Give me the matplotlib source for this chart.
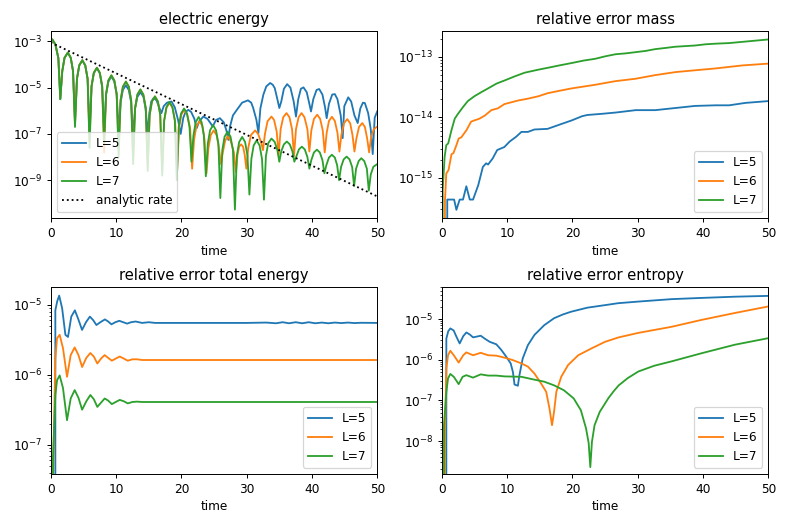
import numpy as np
import matplotlib
matplotlib.use("Agg")
import matplotlib.pyplot as plt
from matplotlib.ticker import FixedLocator, NullLocator, LogFormatterSciNotation

Z = -np.inf  # log10 of an exact zero value

time_ticks = [0, 10, 20, 30, 40, 50]
labels = ["L=5", "L=6", "L=7"]
ee_ytick_exps = [-9, -7, -5, -3]

# ---------------- electric energy (log10 values) ----------------
ee7_t = [0, 0.25, 0.72, 1.17, 1.47,
         1.77, 2.12, 2.62, 3.07, 3.42, 3.72,
         4.02, 4.37, 4.84, 5.29, 5.65, 5.95,
         6.25, 6.6, 7.07, 7.52, 7.88, 8.18,
         8.48, 8.83, 9.29, 9.74, 10.1, 10.4,
         10.7, 11.05, 11.51, 11.96, 12.32, 12.62,
         12.92, 13.27, 13.73, 14.18, 14.55, 14.85,
         15.15, 15.5, 15.96, 16.41, 16.77, 17.07,
         17.37, 17.72, 18.18, 18.63, 19.0, 19.3,
         19.6, 19.95, 20.42, 20.87, 21.25, 21.55,
         21.85, 22.2, 22.65, 23.1, 23.45, 23.75,
         24.05, 24.4, 24.86, 25.31, 25.67, 25.97,
         26.27, 26.62, 27.08, 27.53, 27.9, 28.2,
         28.5, 28.85, 29.31, 29.76, 30.12, 30.42,
         30.72, 31.07, 31.53, 31.98, 32.35, 32.65,
         32.95, 33.3, 33.8, 34.3, 34.7, 35.0,
         35.3, 35.7, 36.15, 36.6, 37.0, 37.3,
         37.6, 38.0, 38.45, 38.9, 39.3, 39.6,
         39.9, 40.3, 40.75, 41.2, 41.6, 41.9,
         42.2, 42.6, 43.05, 43.5, 43.85, 44.15,
         44.45, 44.85, 45.3, 45.75, 46.15, 46.45,
         46.75, 47.15, 47.55, 48.0, 48.4, 48.7,
         49.0, 49.4, 50.0]
ee7_log = [-2.96, -2.92, -3.14, -3.72, -5.5,
           -4.29, -3.71, -3.49, -3.71, -4.29, -6.7,
           -4.62, -4.04, -3.82, -4.04, -4.62, -7.6,
           -4.94, -4.36, -4.14, -4.36, -4.94, -7.4,
           -5.27, -4.69, -4.47, -4.69, -5.27, -8.0,
           -5.54, -4.96, -4.74, -4.96, -5.54, -8.3,
           -5.88, -5.30, -5.08, -5.30, -5.88, -8.6,
           -6.18, -5.60, -5.38, -5.60, -6.18, -8.8,
           -6.42, -5.84, -5.62, -5.84, -6.42, -9.0,
           -6.70, -6.12, -5.90, -6.12, -6.70, -8.2,
           -7.07, -6.49, -6.27, -6.49, -7.07, -8.83,
           -7.42, -6.84, -6.62, -6.84, -7.42, -9.77,
           -7.70, -7.12, -6.90, -7.12, -7.70, -10.27,
           -7.93, -7.35, -7.13, -7.35, -7.93, -9.62,
           -8.08, -7.50, -7.28, -7.50, -8.08, -9.84,
           -7.95, -7.40, -7.20, -7.35, -7.70, -8.2,
           -7.75, -7.45, -7.33, -7.45, -7.75, -8.2,
           -7.98, -7.67, -7.55, -7.67, -8.00, -8.5,
           -8.13, -7.80, -7.68, -7.80, -8.13, -8.7,
           -8.35, -8.02, -7.90, -8.02, -8.35, -9.0,
           -8.43, -8.10, -7.98, -8.10, -8.43, -9.25,
           -8.50, -8.17, -8.05, -8.17, -8.50, -9.45,
           -8.75, -8.42, -8.30]

ee6_t = [0, 0.25, 0.72, 1.17, 1.47,
         1.77, 2.12, 2.62, 3.07, 3.42, 3.72,
         4.02, 4.37, 4.84, 5.29, 5.65, 5.95,
         6.25, 6.6, 7.07, 7.52, 7.88, 8.18,
         8.48, 8.83, 9.29, 9.74, 10.1, 10.4,
         10.7, 11.05, 11.51, 11.96, 12.32, 12.62,
         12.92, 13.27, 13.73, 14.18, 14.55, 14.85,
         15.15, 15.5, 15.96, 16.41, 16.77, 17.07,
         17.37, 17.72, 18.2, 18.65, 19.05, 19.35,
         19.65, 20.0, 20.45, 20.9, 21.35, 21.65,
         21.95, 22.3, 22.8, 23.25, 23.55, 23.85,
         24.15, 24.5, 24.95, 25.4, 25.75, 26.05,
         26.35, 26.7, 27.1, 27.55, 28.05, 28.35,
         28.6, 28.85, 29.15, 29.45, 29.7, 29.95,
         30.25, 30.65, 31.3, 31.75, 32.2, 32.5,
         32.8, 33.2, 33.8, 34.2, 34.6, 34.9,
         35.2, 35.6, 36.1, 36.55, 36.95, 37.25,
         37.55, 37.95, 38.4, 38.85, 39.3, 39.6,
         39.9, 40.3, 40.8, 41.25, 41.65, 41.95,
         42.25, 42.6, 43.05, 43.5, 43.9, 44.2,
         44.5, 44.9, 45.4, 45.85, 46.2, 46.5,
         46.8, 47.2, 47.7, 48.1, 48.45, 48.75,
         49.05, 49.45, 50.0]
ee6_log = [-2.96, -2.92, -3.14, -3.72, -5.45,
           -4.29, -3.71, -3.49, -3.71, -4.29, -6.6,
           -4.62, -4.04, -3.82, -4.04, -4.62, -7.3,
           -4.94, -4.36, -4.14, -4.36, -4.94, -7.8,
           -5.27, -4.69, -4.47, -4.69, -5.27, -7.7,
           -5.54, -4.96, -4.74, -4.96, -5.54, -8.1,
           -5.88, -5.30, -5.08, -5.30, -5.88, -8.4,
           -6.18, -5.60, -5.38, -5.60, -6.18, -8.6,
           -6.45, -5.87, -5.65, -5.87, -6.45, -8.6,
           -6.75, -6.17, -5.95, -6.17, -6.75, -8.5,
           -7.25, -6.67, -6.45, -6.67, -7.25, -8.7,
           -7.60, -7.05, -6.85, -7.05, -7.60, -8.3,
           -7.80, -7.30, -7.10, -7.30, -7.80, -8.65,
           -7.90, -7.55, -7.45, -7.55, -7.90, -8.5,
           -7.60, -7.05, -6.85, -7.00, -7.35, -7.7,
           -7.00, -6.45, -6.25, -6.40, -6.90, -7.9,
           -6.80, -6.28, -6.10, -6.28, -6.80, -7.95,
           -6.80, -6.28, -6.10, -6.28, -6.80, -7.76,
           -6.85, -6.35, -6.17, -6.35, -6.85, -7.8,
           -6.95, -6.44, -6.26, -6.44, -6.95, -7.76,
           -7.05, -6.54, -6.36, -6.54, -7.05, -7.76,
           -7.20, -6.70, -6.53, -6.70, -7.20, -7.8,
           -7.15, -6.80, -6.68]

ee5_t = [0, 0.25, 0.72, 1.17, 1.47,
         1.77, 2.12, 2.62, 3.07, 3.42, 3.72,
         4.02, 4.37, 4.84, 5.29, 5.65, 5.95,
         6.25, 6.6, 7.07, 7.52, 7.88, 8.18,
         8.48, 8.83, 9.29, 9.74, 10.1, 10.4,
         10.7, 11.05, 11.5, 11.95, 12.32, 12.62,
         12.92, 13.27, 13.75, 14.2, 14.55, 14.85,
         15.1, 15.4, 15.75, 16.2, 16.6, 16.95,
         17.3, 17.8, 18.5, 19.0, 19.5, 19.9,
         20.3, 20.65, 21.07, 21.5, 22.0, 22.35,
         22.75, 23.37, 24.0, 24.5, 24.8,
         25.3, 25.9, 26.5, 26.9, 27.2,
         27.45, 27.9, 28.5, 29.3, 30.2, 30.7, 31.0, 31.5, 31.8,
         32.1, 32.55, 33.0, 33.6, 34.0, 34.3, 34.7, 35.0,
         35.3, 35.7, 36.2, 36.7, 37.2, 37.55,
         37.9, 38.3, 38.7, 39.2, 39.6, 39.85,
         40.2, 40.7, 41.1, 41.6, 42.0, 42.25,
         42.6, 43.1, 43.5, 43.9, 44.4, 44.7,
         44.95, 45.55, 46.0, 46.5, 47.0,
         47.4, 47.8, 48.1, 48.6, 49.0, 49.3,
         49.6, 50.0]
ee5_log = [-2.96, -2.92, -3.14, -3.72, -5.5,
           -4.29, -3.71, -3.49, -3.71, -4.29, -6.5,
           -4.62, -4.04, -3.82, -4.04, -4.62, -6.9,
           -4.96, -4.38, -4.16, -4.38, -4.96, -7.0,
           -5.30, -4.74, -4.52, -4.74, -5.30, -6.9,
           -5.65, -5.10, -4.90, -5.10, -5.65, -7.05,
           -5.90, -5.40, -5.20, -5.40, -5.95, -7.05,
           -6.10, -5.60, -5.45, -5.55, -5.85, -6.1,
           -5.80, -5.65, -5.60, -5.85, -6.40, -7.0,
           -6.30, -6.05, -5.96, -6.05, -6.35, -6.75,
           -6.45, -6.25, -6.35, -6.55, -6.68,
           -6.40, -6.32, -6.50, -6.85, -7.26,
           -6.68, -6.20, -5.96, -5.65, -5.55, -5.65, -5.88, -6.40, -6.97,
           -5.90, -5.31, -4.95, -4.80, -4.88, -5.02, -5.50, -5.88,
           -5.60, -5.05, -4.85, -5.00, -5.60, -6.25,
           -5.50, -5.05, -4.99, -5.20, -5.70, -6.03,
           -5.50, -5.10, -5.06, -5.30, -5.85, -6.32,
           -5.70, -5.30, -5.28, -5.50, -6.20, -7.18,
           -5.80, -5.42, -5.60, -6.20, -6.53,
           -5.90, -5.65, -5.67, -6.10, -6.80, -7.87,
           -6.30, -6.02]

rate_t = [0, 50]
rate_log = [-3.05, -9.70]

# ---------------- relative error mass (log10 values) ----------------
m5_t = [0, 0.35, 0.7, 0.85, 1.35, 1.9, 2.25, 2.75, 3.26, 3.77, 4.3, 4.8, 5.6,
        6.3, 6.8, 7.1, 7.8, 8.5, 9.6, 10.4, 11.4, 12.2, 13.2, 14.2, 16.2, 18.3,
        19.9, 21.5, 22.3, 24.6, 26.6, 29.7, 32.7, 35.3, 38.8, 41.9, 44.0, 46.5, 50.0]
m5_log = [Z, Z, Z, -15.36, -15.36, -15.36, -15.53, -15.36, -15.36, -15.14, -15.36,
          -15.36, -15.12, -14.82, -14.76, -14.78, -14.68, -14.54, -14.49, -14.40,
          -14.32, -14.24, -14.24, -14.20, -14.19, -14.11, -14.05, -13.98, -13.96,
          -13.94, -13.92, -13.88, -13.88, -13.85, -13.81, -13.80, -13.80, -13.76, -13.73]

m6_t = [0, 0.35, 0.5, 0.7, 1.05, 1.5, 1.8, 2.25, 2.6, 3.0, 3.8, 4.5, 5.0, 5.8,
        6.6, 7.6, 8.6, 9.6, 11.7, 13.2, 14.8, 16.2, 18.0, 19.9, 23.5, 26.6, 29.7,
        32.7, 35.8, 38.8, 41.9, 46.0, 50.0]
m6_log = [Z, Z, -15.38, -14.93, -14.87, -14.61, -14.59, -14.46, -14.35, -14.33,
          -14.21, -14.07, -14.05, -14.02, -13.97, -13.88, -13.85, -13.78, -13.72,
          -13.69, -13.65, -13.60, -13.56, -13.52, -13.46, -13.40, -13.36, -13.30,
          -13.25, -13.22, -13.19, -13.14, -13.11]

m7_t = [0, 0.15, 0.45, 0.7, 1.0, 1.5, 2.0, 2.5, 3.25, 4.0, 5.0, 6.1, 7.1, 8.4,
        9.6, 11.2, 12.7, 14.8, 16.2, 18.0, 19.9, 21.7, 23.5, 25.0, 26.6, 28.2,
        29.7, 31.2, 32.7, 34.3, 35.8, 37.3, 38.8, 40.4, 41.9, 44.0, 46.0, 48.0, 50.0]
m7_log = [Z, -15.2, -14.65, -14.46, -14.43, -14.21, -14.02, -13.94, -13.83,
          -13.73, -13.65, -13.58, -13.52, -13.44, -13.39, -13.32, -13.26, -13.21,
          -13.18, -13.14, -13.10, -13.06, -13.03, -12.99, -12.955, -12.94, -12.92,
          -12.90, -12.87, -12.85, -12.83, -12.82, -12.81, -12.79, -12.78, -12.77,
          -12.75, -12.73, -12.71]

# ---------------- relative error total energy (log10 values) ----------------
en5_t = [0, 0.35, 0.71, 1.0, 1.3, 1.75, 2.25, 2.65, 3.15, 3.7,
         4.2, 4.8, 5.4, 6.0, 6.5, 7.0, 7.6, 8.3, 8.8, 9.3,
         9.9, 10.5, 11.1, 11.7, 12.3, 13.0, 14, 15, 16, 18,
         20, 25, 30, 33, 34.5, 35.5, 36.5, 37.5, 38.5, 39.5,
         40.5, 41.5, 42.5, 43.5, 44.5, 45.5, 46.5, 47.5, 50]
en5_log = [Z, Z, -5.08, -4.95, -4.87, -5.05, -5.43, -5.46, -5.17, -5.08,
           -5.20, -5.36, -5.25, -5.17, -5.22, -5.29, -5.25, -5.21, -5.24, -5.28,
           -5.25, -5.23, -5.25, -5.27, -5.25, -5.24, -5.26, -5.25, -5.26, -5.26,
           -5.26, -5.26, -5.26, -5.255, -5.265, -5.25, -5.265, -5.25, -5.265, -5.25,
           -5.265, -5.255, -5.265, -5.255, -5.262, -5.255, -5.262, -5.258, -5.26]

en67_t = [0, 0.35, 0.71, 0.97, 1.37, 1.88, 2.5, 3.06, 3.67, 4.25,
          4.81, 5.45, 6.07, 6.6, 7.14, 7.7, 8.26, 8.8, 9.36, 9.95,
          10.57, 11.2, 11.8, 12.5, 13.2, 14, 15, 17, 20, 30,
          40, 50]
en6_log = [Z, -7.5, -5.77, -5.48, -5.43, -5.62, -6.03, -5.72, -5.61, -5.72,
           -5.89, -5.76, -5.69, -5.74, -5.84, -5.77, -5.72, -5.76, -5.80, -5.77,
           -5.74, -5.77, -5.80, -5.78, -5.78, -5.79, -5.79, -5.79, -5.79, -5.79,
           -5.79, -5.79]
en7_log = [Z, -7.2, -6.29, -6.08, -6.01, -6.19, -6.65, -6.34, -6.22, -6.33,
           -6.50, -6.38, -6.29, -6.35, -6.46, -6.40, -6.34, -6.37, -6.42, -6.39,
           -6.36, -6.38, -6.41, -6.39, -6.385, -6.39, -6.39, -6.39, -6.39, -6.39,
           -6.39, -6.39]

# ---------------- relative error entropy (log10 values) ----------------
s5_t = [0, 0.35, 0.71, 1.0, 1.32, 1.83, 2.3, 2.75, 3.3, 3.77,
        4.3, 4.8, 5.4, 5.97, 6.58, 7.35, 8.36, 9.13, 9.9, 10.56,
        10.9, 11.15, 11.66, 11.9, 12.4, 13.2, 14.2, 15.7, 17.2, 18.5,
        19.8, 22.3, 24.9, 27.0, 30.1, 35.2, 39.8, 44.9, 50.0]
s5_log = [Z, Z, -5.48, -5.30, -5.23, -5.28, -5.45, -5.60, -5.42, -5.33,
          -5.38, -5.45, -5.43, -5.41, -5.48, -5.56, -5.62, -5.76, -5.93, -6.09,
          -6.30, -6.61, -6.64, -6.38, -5.97, -5.64, -5.39, -5.15, -4.98, -4.89,
          -4.82, -4.72, -4.66, -4.61, -4.57, -4.51, -4.48, -4.45, -4.43]

s6_t = [0, 0.35, 0.5, 0.71, 0.97, 1.32, 1.85, 2.6, 3.3, 3.77,
        4.8, 5.97, 7.1, 8.36, 9.64, 10.9, 12.2, 13.2, 14.2, 15.2,
        16.0, 16.5, 16.89, 17.2, 17.55, 18.3, 19.35, 20.9, 22.95, 25.0,
        27.1, 30.1, 35.2, 39.8, 44.9, 50.0]
s6_log = [Z, Z, -7.8, -6.21, -5.89, -5.78, -5.89, -6.07, -5.89, -5.82,
          -5.89, -5.83, -5.89, -5.90, -5.95, -6.01, -6.09, -6.17, -6.34, -6.58,
          -6.79, -7.20, -7.61, -7.28, -6.79, -6.42, -6.13, -5.89, -5.72, -5.56,
          -5.45, -5.34, -5.19, -5.02, -4.85, -4.69]

s7_t = [0, 0.35, 0.71, 0.97, 1.32, 1.85, 2.6, 3.2, 3.77, 4.8,
        5.97, 7.1, 8.36, 9.64, 12.2, 14.2, 15.7, 17.2, 18.7, 20.2,
        21.3, 22.1, 22.5, 22.75, 23.0, 23.4, 24.2, 25.5, 26.3, 27.1,
        28.5, 30.1, 32.5, 35.2, 39.8, 44.9, 50.0]
s7_log = [Z, -7.6, -6.79, -6.46, -6.35, -6.42, -6.60, -6.42, -6.38, -6.44,
          -6.36, -6.39, -6.39, -6.41, -6.42, -6.49, -6.54, -6.63, -6.75, -6.95,
          -7.24, -7.69, -8.05, -8.64, -8.02, -7.61, -7.28, -6.95, -6.78, -6.63,
          -6.45, -6.29, -6.15, -6.04, -5.84, -5.63, -5.47]

# axis limits (log10)
ylims = {
    "electric energy": (-10.645, -2.567),
    "relative error mass": (-15.67, -12.575),
    "relative error total energy": (-7.419, -4.751),
    "relative error entropy": (-8.81, -4.219),
}


def val(lst):
    return np.power(10.0, np.asarray(lst, dtype=float))


W, H = 789, 526
DPI = W / 9.0
fig = plt.figure(figsize=(9.0, 6.0), dpi=DPI)

aw, ah = 326.6 / W, 187.0 / H
rects = [
    (50.7 / W, 1 - 218.3 / H, aw, ah),
    (441.7 / W, 1 - 218.3 / H, aw, ah),
    (50.7 / W, 1 - 474.0 / H, aw, 186.7 / H),
    (441.7 / W, 1 - 474.0 / H, aw, 186.7 / H),
]
axs = [fig.add_axes(r) for r in rects]

panels = [
    ("electric energy", [(ee5_t, ee5_log), (ee6_t, ee6_log), (ee7_t, ee7_log)], "lower left"),
    ("relative error mass", [(m5_t, m5_log), (m6_t, m6_log), (m7_t, m7_log)], "lower right"),
    ("relative error total energy", [(en5_t, en5_log), (en67_t, en6_log), (en67_t, en7_log)], "lower right"),
    ("relative error entropy", [(s5_t, s5_log), (s6_t, s6_log), (s7_t, s7_log)], "lower right"),
]

for ax, (title, series, loc) in zip(axs, panels):
    ax.set_yscale("log")
    for (t, v), lab in zip(series, labels):
        ax.plot(t, val(v), label=lab)
    if title == "electric energy":
        ax.plot(rate_t, val(rate_log), "k:", label="analytic rate")
        ax.yaxis.set_major_locator(FixedLocator(val(ee_ytick_exps)))
        ax.yaxis.set_major_formatter(LogFormatterSciNotation())
        ax.yaxis.set_minor_locator(NullLocator())
    ax.set_xlim(0, 50)
    lo, hi = ylims[title]
    ax.set_ylim(10 ** lo, 10 ** hi)
    ax.set_xticks(time_ticks)
    ax.set_title(title)
    ax.set_xlabel("time")
    ax.legend(loc=loc)

fig.savefig("out.png", dpi=DPI)
